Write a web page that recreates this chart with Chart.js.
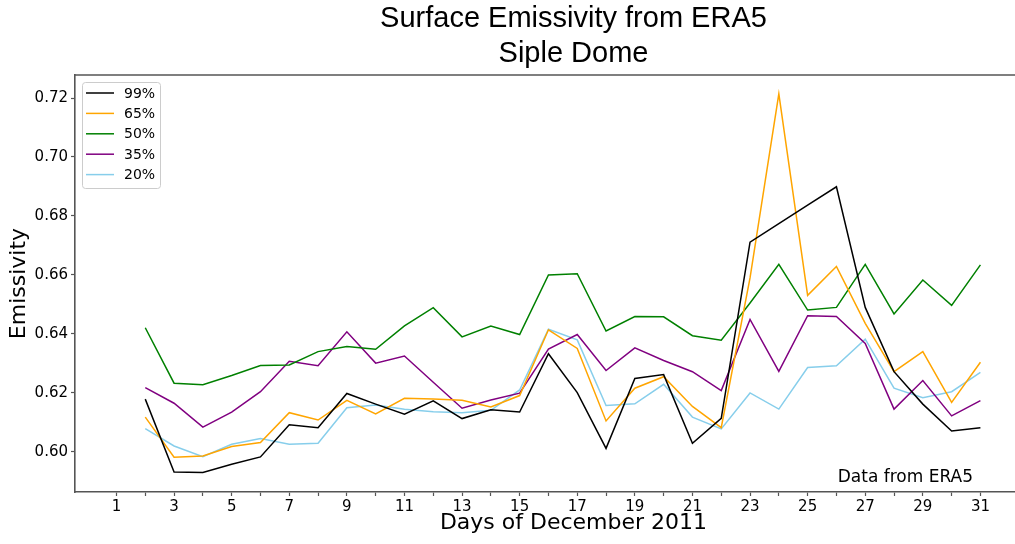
<!DOCTYPE html>
<html>
<head>
<meta charset="utf-8">
<title>Surface Emissivity from ERA5 - Siple Dome</title>
<script src="https://cdn.jsdelivr.net/npm/chart.js@4.4.1/dist/chart.umd.min.js"></script>
<style>
  html, body { margin: 0; padding: 0; background: #fff; overflow: hidden; }
  #wrap { width: 1015px; height: 544px; overflow: hidden; }
  canvas { display: block; }
</style>
</head>
<body>
<div id="wrap"><canvas id="emisChart" width="1072" height="544"></canvas></div>
<script>
  "use strict";

  /* ---------------------------------------------------------------
   * Data: daily surface emissivity, December 2011 (days 2..31)
   * --------------------------------------------------------------- */
  const days = [2, 3, 4, 5, 6, 7, 8, 9, 10, 11, 12, 13, 14, 15, 16,
                17, 18, 19, 20, 21, 22, 23, 24, 25, 26, 27, 28, 29, 30, 31];

  const p99 = [0.6179, 0.5932, 0.5930, 0.5958, 0.5983, 0.6092, 0.6082, 0.6198, 0.6162, 0.6128,
               0.6173, 0.6113, 0.6143, 0.6135, 0.6333, 0.6201, 0.6012, 0.6249, 0.6262, 0.6029,
               0.6114, 0.6711, 0.6774, 0.6837, 0.6899, 0.6490, 0.6272, 0.6162, 0.6071, 0.6082];
  const p65 = [0.6118, 0.5982, 0.5986, 0.6018, 0.6032, 0.6133, 0.6108, 0.6175, 0.6129, 0.6182,
               0.6179, 0.6175, 0.6152, 0.6191, 0.6414, 0.6351, 0.6105, 0.6216, 0.6255, 0.6154,
               0.6082, 0.6590, 0.7214, 0.6531, 0.6629, 0.6436, 0.6272, 0.6340, 0.6168, 0.6304];
  const p50 = [0.6421, 0.6233, 0.6228, 0.6259, 0.6293, 0.6295, 0.6340, 0.6357, 0.6348, 0.6427,
               0.6489, 0.6390, 0.6427, 0.6398, 0.6600, 0.6604, 0.6410, 0.6459, 0.6458, 0.6394,
               0.6379, 0.6505, 0.6636, 0.6481, 0.6490, 0.6636, 0.6468, 0.6583, 0.6497, 0.6634];
  const p35 = [0.6218, 0.6165, 0.6084, 0.6135, 0.6204, 0.6307, 0.6292, 0.6407, 0.6301, 0.6325,
               0.6236, 0.6148, 0.6176, 0.6199, 0.6349, 0.6398, 0.6276, 0.6353, 0.6310, 0.6272,
               0.6208, 0.6449, 0.6273, 0.6462, 0.6459, 0.6368, 0.6145, 0.6242, 0.6122, 0.6174];
  const p20 = [0.6079, 0.6020, 0.5984, 0.6026, 0.6045, 0.6026, 0.6029, 0.6150, 0.6159, 0.6145,
               0.6136, 0.6133, 0.6141, 0.6210, 0.6416, 0.6380, 0.6157, 0.6163, 0.6229, 0.6118,
               0.6078, 0.6200, 0.6145, 0.6286, 0.6292, 0.6382, 0.6216, 0.6184, 0.6204, 0.6270];

  const seriesLabels = ["99%", "65%", "50%", "35%", "20%"];
  const seriesValues = [p99, p65, p50, p35, p20];
  const seriesColors = ["#000000", "#FFA500", "#008000", "#800080", "#87CEEB"];

  // every day gets a tick mark, odd days get a label
  const xTickDays = [1, 2, 3, 4, 5, 6, 7, 8, 9, 10, 11, 12, 13, 14, 15, 16,
                     17, 18, 19, 20, 21, 22, 23, 24, 25, 26, 27, 28, 29, 30, 31];
  const yTicks = [0.60, 0.62, 0.64, 0.66, 0.68, 0.70, 0.72];

  const TICK_FONT = { family: "DejaVu Sans", size: 15 };
  const LABEL_FONT = { family: "DejaVu Sans", size: 22 };
  const SPINE = "#555555";

  /* ---------------------------------------------------------------
   * Small plugins: top spine, boxed legend, source note
   * --------------------------------------------------------------- */
  const topSpine = {
    id: "topSpine",
    afterDraw(chart) {
      const { ctx, chartArea } = chart;
      ctx.save();
      ctx.strokeStyle = SPINE;
      ctx.lineWidth = 1.6;
      ctx.beginPath();
      ctx.moveTo(chartArea.left - 0.8, chartArea.top);
      ctx.lineTo(chartArea.right, chartArea.top);
      ctx.stroke();
      ctx.restore();
    }
  };

  const boxLegend = {
    id: "boxLegend",
    afterDatasetsDraw(chart, args, opts) {
      const { ctx, chartArea } = chart;
      const x = chartArea.left + opts.inset;
      const y = chartArea.top + opts.inset;
      const sets = chart.data.datasets;
      const h = opts.rowGap * sets.length + 4;

      ctx.save();
      ctx.fillStyle = "rgba(255,255,255,0.8)";
      ctx.strokeStyle = "#cccccc";
      ctx.lineWidth = 1;
      ctx.beginPath();
      ctx.roundRect(x + 0.5, y + 0.5, opts.width, h, 3);
      ctx.fill();
      ctx.stroke();

      ctx.font = "14px 'DejaVu Sans'";
      ctx.textBaseline = "middle";
      ctx.textAlign = "left";
      sets.forEach((ds, i) => {
        const cy = y + 11 + i * opts.rowGap;
        ctx.strokeStyle = ds.borderColor;
        ctx.lineWidth = 1.5;
        ctx.beginPath();
        ctx.moveTo(x + 4, cy);
        ctx.lineTo(x + 32, cy);
        ctx.stroke();
        ctx.fillStyle = "#000";
        ctx.fillText(ds.label, x + 42, cy + 1);
      });
      ctx.restore();
    }
  };

  const sourceNote = {
    id: "sourceNote",
    afterDraw(chart, args, opts) {
      const { ctx, chartArea } = chart;
      ctx.save();
      ctx.font = "17px 'DejaVu Sans'";
      ctx.fillStyle = "#000";
      ctx.textAlign = "right";
      ctx.textBaseline = "alphabetic";
      ctx.fillText(opts.text, opts.right, chartArea.bottom - 10);
      ctx.restore();
    }
  };

  /* ---------------------------------------------------------------
   * Chart
   * --------------------------------------------------------------- */
  const datasets = seriesLabels.map((label, s) => ({
    label: label,
    data: days.map((d, i) => ({ x: d, y: seriesValues[s][i] })),
    borderColor: seriesColors[s],
    backgroundColor: seriesColors[s],
    borderWidth: 1.5,
    pointRadius: 0,
    tension: 0,
    fill: false
  }));

  new Chart(document.getElementById("emisChart"), {
    type: "line",
    data: { datasets },
    plugins: [topSpine, boxLegend, sourceNote],
    options: {
      responsive: false,
      animation: false,
      devicePixelRatio: 1,
      layout: { padding: 0 },
      plugins: {
        legend: { display: false },
        tooltip: { enabled: false },
        title: {
          display: true,
          fullSize: false,
          text: ["Surface Emissivity from ERA5", "Siple Dome"],
          color: "#000",
          font: { family: "Liberation Sans", size: 29, weight: "normal", lineHeight: 1.2 },
          padding: { top: 2, bottom: 3.4 }
        },
        boxLegend: { inset: 7, width: 78, rowGap: 20.4 },
        sourceNote: { text: "Data from ERA5", right: 973 }
      },
      scales: {
        x: {
          type: "linear",
          min: -0.44,
          max: 34.18,
          afterBuildTicks: (axis) => { axis.ticks = xTickDays.map((v) => ({ value: v })); },
          afterFit: (axis) => { axis.height = 52; },
          ticks: {
            autoSkip: false,
            maxRotation: 0,
            color: "#000",
            font: TICK_FONT,
            padding: 2,
            callback: (v) => (v % 2 === 1 ? String(v) : "")
          },
          grid: { drawOnChartArea: false, tickLength: 4, tickColor: SPINE, tickWidth: 1.2 },
          border: { display: true, color: SPINE, width: 1.6 },
          title: {
            display: true,
            text: "Days of December 2011",
            color: "#000",
            font: LABEL_FONT,
            padding: { top: 0, bottom: 8 }
          }
        },
        y: {
          type: "linear",
          min: 0.5864,
          max: 0.7278,
          afterBuildTicks: (axis) => { axis.ticks = yTicks.map((v) => ({ value: v })); },
          afterFit: (axis) => { axis.width = 75; },
          ticks: {
            color: "#000",
            font: TICK_FONT,
            padding: 3,
            callback: (v) => v.toFixed(2)
          },
          grid: { drawOnChartArea: false, tickLength: 4, tickColor: SPINE, tickWidth: 1.2 },
          border: { display: true, color: SPINE, width: 1.6 },
          title: {
            display: true,
            text: "Emissivity",
            color: "#000",
            font: LABEL_FONT,
            padding: { top: 6, bottom: 0 }
          }
        }
      }
    }
  });
</script>
</body>
</html>
